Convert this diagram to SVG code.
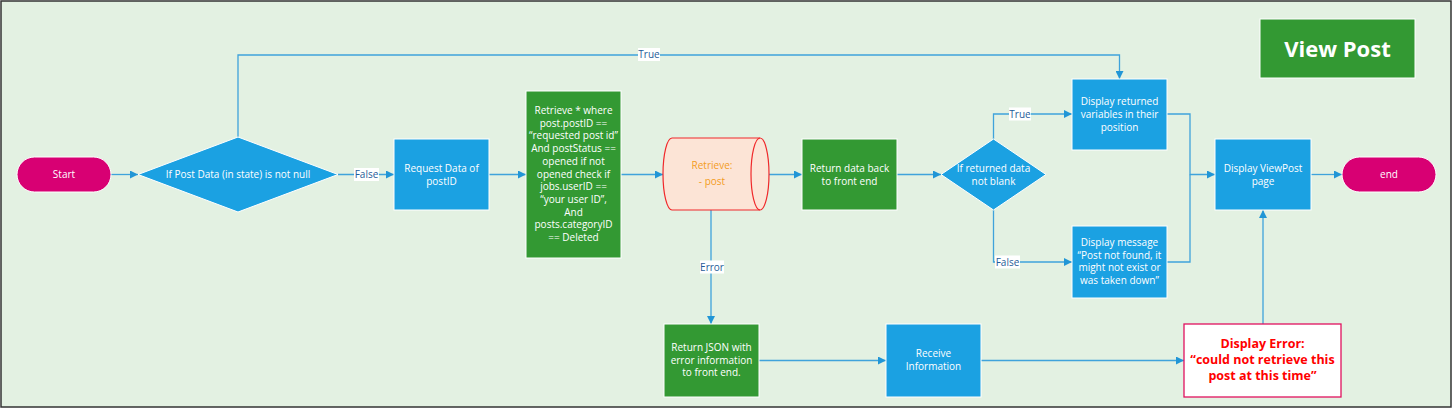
<svg xmlns="http://www.w3.org/2000/svg" width="1453" height="409" viewBox="0 0 1453 409">
<style>
.t{font-family:"Open Sans","Noto Sans",sans-serif;font-size:10px;fill:#fff;text-anchor:middle}
.lb{font-family:"Open Sans","Noto Sans",sans-serif;font-size:10px;fill:#1F5C99;text-anchor:middle}
.err{font-family:"Open Sans","Noto Sans",sans-serif;font-size:12.5px;font-weight:bold;fill:#FF0000;text-anchor:middle}
.blue{fill:#1BA1E2;stroke:#fff;stroke-width:1}
.green{fill:#339933;stroke:#fff;stroke-width:1}
.mag{fill:#D80073;stroke:#fff;stroke-width:1}
.c{fill:none;stroke:#3FA3DB;stroke-width:1.3}
.lbg{fill:#fff}
</style>
<defs>
<marker id="ah" viewBox="0 0 10 10" refX="10" refY="5" markerWidth="8" markerHeight="8" markerUnits="userSpaceOnUse" orient="auto">
<path d="M0,0 L10,5 L0,10 Z" fill="#2196D6"/>
</marker>
</defs>
<rect x="1" y="1" width="1450" height="406" fill="#E3F1E2" stroke="#333" stroke-width="1.5"/>

<g id="connectors">
<path class="c" d="M111,174.5 H138" marker-end="url(#ah)"/>
<path class="c" d="M338,174.5 H394" marker-end="url(#ah)"/>
<path class="c" d="M489,174.5 H526" marker-end="url(#ah)"/>
<path class="c" d="M621,174.5 H663" marker-end="url(#ah)"/>
<path class="c" d="M769,174.5 H802" marker-end="url(#ah)"/>
<path class="c" d="M897,174.5 H941" marker-end="url(#ah)"/>
<path class="c" d="M238,137 V55 H1119.5 V79" marker-end="url(#ah)"/>
<path class="c" d="M993.5,139 V114 H1072" marker-end="url(#ah)"/>
<path class="c" d="M993.5,209 V262 H1072" marker-end="url(#ah)"/>
<path class="c" d="M1167,114 H1190 V174.5 H1215" marker-end="url(#ah)"/>
<path class="c" d="M1167,262 H1190 V174.5"/>
<path class="c" d="M1311,174.5 H1342" marker-end="url(#ah)"/>
<path class="c" d="M711,210 V324" marker-end="url(#ah)"/>
<path class="c" d="M759,360.5 H886" marker-end="url(#ah)"/>
<path class="c" d="M981,360.5 H1184" marker-end="url(#ah)"/>
<path class="c" d="M1263,324 V210" marker-end="url(#ah)"/>
<rect class="lbg" x="638" y="48" width="22" height="13"/>
<text class="lb" x="649" y="58">True</text>
<rect class="lbg" x="354" y="168" width="25" height="13"/>
<text class="lb" x="366.5" y="178">False</text>
<rect class="lbg" x="1009" y="107.5" width="22" height="13"/>
<text class="lb" x="1020" y="117.5">True</text>
<rect class="lbg" x="995" y="255.5" width="25" height="13"/>
<text class="lb" x="1007.5" y="265.5">False</text>
<rect class="lbg" x="700" y="260.5" width="24" height="13"/>
<text class="lb" x="712" y="270.5">Error</text>
</g>

<g id="start">
<rect class="mag" x="17" y="157" width="94" height="35" rx="17.5"/>
<text class="t" x="64" y="178">Start</text>
</g>
<g id="decision-post-data">
<path class="blue" d="M238,137 L338,174.5 L238,212 L138,174.5 Z"/>
<text class="t" x="238" y="178">If Post Data (in state) is not null</text>
</g>
<g id="request-data">
<rect class="blue" x="394" y="139" width="95" height="71"/>
<text class="t" x="441.5" y="171.5">Request Data of</text>
<text class="t" x="441.5" y="184.5">postID</text>
</g>
<g id="retrieve-query">
<rect class="green" x="526" y="91" width="95" height="167"/>
<text class="t" x="573.5" y="114">Retrieve * where</text>
<text class="t" x="573.5" y="126.7">post.postID ==</text>
<text class="t" x="573.5" y="139.4">“requested post id”</text>
<text class="t" x="573.5" y="152.1">And postStatus ==</text>
<text class="t" x="573.5" y="164.8">opened if not</text>
<text class="t" x="573.5" y="177.5">opened check if</text>
<text class="t" x="573.5" y="190.2">jobs.userID ==</text>
<text class="t" x="573.5" y="202.9">“your user ID”,</text>
<text class="t" x="573.5" y="215.6">And</text>
<text class="t" x="573.5" y="228.3">posts.categoryID</text>
<text class="t" x="573.5" y="241">== Deleted</text>
</g>
<g id="retrieve-post">
<path d="M672,138 L760,138 A9,36 0 0 1 760,210 L672,210 A9,36 0 0 1 672,138 Z" fill="#FCE4D6" stroke="#F0282A" stroke-width="1.2"/>
<path d="M760,138 A9,36 0 0 0 760,210" fill="none" stroke="#F0282A" stroke-width="1.2"/>
<text class="t" x="712" y="168.5" style="fill:#F39C1E">Retrieve:</text>
<text class="t" x="712" y="184.5" style="fill:#F39C1E">- post</text>
</g>
<g id="return-data">
<rect class="green" x="802" y="139" width="95" height="71"/>
<text class="t" x="849.5" y="171.5">Return data back</text>
<text class="t" x="849.5" y="184.5">to front end</text>
</g>
<g id="decision-returned">
<path class="blue" d="M993.5,139 L1046,174.5 L993.5,210 L941,174.5 Z"/>
<text class="t" x="993.5" y="171.5">If returned data</text>
<text class="t" x="993.5" y="184.5">not blank</text>
</g>
<g id="display-returned">
<rect class="blue" x="1072" y="79" width="95" height="71"/>
<text class="t" x="1119.5" y="105">Display returned</text>
<text class="t" x="1119.5" y="118">variables in their</text>
<text class="t" x="1119.5" y="131">position</text>
</g>
<g id="display-message">
<rect class="blue" x="1072" y="226" width="95" height="72"/>
<text class="t" x="1119.5" y="246">Display message</text>
<text class="t" x="1119.5" y="258.7">“Post not found, it</text>
<text class="t" x="1119.5" y="271.4">might not exist or</text>
<text class="t" x="1119.5" y="284.1">was taken down”</text>
</g>
<g id="title">
<rect x="1260" y="19" width="155" height="59" fill="#339933" stroke="#fff" stroke-width="1"/>
<text x="1337.5" y="56.5" style="font-family:'Open Sans','Noto Sans',sans-serif;font-size:22px;font-weight:bold;fill:#fff;text-anchor:middle">View Post</text>
</g>
<g id="display-viewpost">
<rect class="blue" x="1215" y="139" width="96" height="71"/>
<text class="t" x="1263" y="171.5">Display ViewPost</text>
<text class="t" x="1263" y="184.5">page</text>
</g>
<g id="end">
<rect class="mag" x="1342" y="157" width="94" height="35" rx="17.5"/>
<text class="t" x="1389" y="178">end</text>
</g>
<g id="return-json">
<rect class="green" x="664" y="324" width="95" height="73"/>
<text class="t" x="711.5" y="351">Return JSON with</text>
<text class="t" x="711.5" y="363.7">error information</text>
<text class="t" x="711.5" y="376.4">to front end.</text>
</g>
<g id="receive-info">
<rect class="blue" x="886" y="324" width="95" height="73"/>
<text class="t" x="933.5" y="357">Receive</text>
<text class="t" x="933.5" y="370">Information</text>
</g>
<g id="display-error">
<rect x="1184" y="324" width="157" height="73" fill="#fff" stroke="#E0115F" stroke-width="1.3"/>
<text class="err" x="1262.5" y="347.5">Display Error:</text>
<text class="err" x="1262.5" y="364">“could not retrieve this</text>
<text class="err" x="1262.5" y="379.5">post at this time”</text>
</g>
</svg>
